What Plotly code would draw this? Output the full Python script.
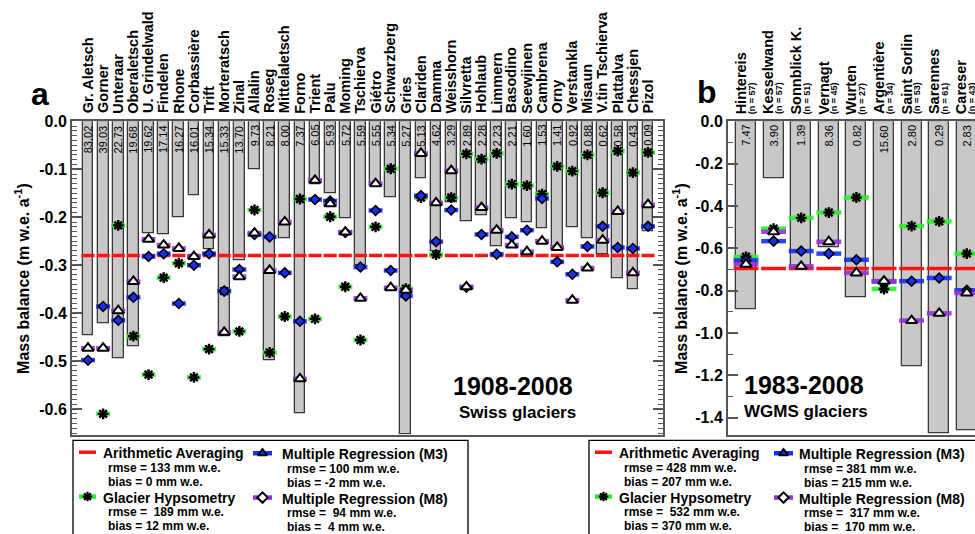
import plotly.graph_objects as go

# ---------------- data: panel a (Swiss glaciers 1908-2008) ----------------
swiss_names = ["Gr. Aletsch", "Gorner", "Unteraar", "Oberaletsch", "U. Grindelwald", "Findelen",
               "Rhone", "Corbassière", "Trift", "Morteratsch", "Zinal", "Allalin", "Roseg",
               "Mittelaletsch", "Forno", "Trient", "Palu", "Moming", "Tschierva", "Giétro",
               "Schwarzberg", "Gries", "Clariden", "Damma", "Weisshorn", "Silvretta", "Hohlaub",
               "Limmern", "Basodino", "Seewjinen", "Cambrena", "Orny", "Verstankla", "Misaun",
               "V.tin Tschierva", "Plattalva", "Chessjen", "Pizol"]
swiss_area = ["83.02", "39.03", "22.73", "19.68", "19.62", "17.14", "16.27", "16.01", "15.34",
              "15.33", "13.70", "9.73", "8.21", "8.00", "7.37", "6.05", "5.93", "5.72", "5.59",
              "5.55", "5.34", "5.27", "5.13", "4.62", "3.29", "2.89", "2.28", "2.23", "2.21",
              "1.60", "1.53", "1.41", "0.92", "0.88", "0.62", "0.58", "0.43", "0.09"]
swiss_obs = [-0.447, -0.422, -0.494, -0.470, -0.233, -0.236, -0.200, -0.155, -0.267, -0.448,
             -0.289, -0.101, -0.499, -0.243, -0.609, -0.131, -0.150, -0.202, -0.301, -0.133,
             -0.159, -0.652, -0.118, -0.270, -0.168, -0.209, -0.195, -0.260, -0.203, -0.210,
             -0.224, -0.265, -0.222, -0.243, -0.277, -0.328, -0.350, -0.229]
swiss_hyps = [None, -0.610, -0.217, -0.448, -0.528, -0.326, -0.296, -0.534, -0.475, -0.354,
              -0.438, -0.185, -0.482, -0.407, -0.162, -0.412, -0.199, -0.345, -0.456, -0.220,
              -0.099, -0.349, -0.159, -0.278, -0.159, -0.068, -0.079, -0.067, -0.131, -0.134,
              -0.152, -0.094, -0.104, -0.070, -0.149, -0.062, -0.107, -0.065]
swiss_m3 = [-0.498, -0.386, -0.415, -0.367, -0.282, -0.276, -0.380, -0.300, -0.276, -0.354,
            -0.309, -0.236, -0.241, -0.316, -0.417, -0.163, -0.166, -0.232, -0.304, -0.186,
            -0.311, -0.364, -0.155, -0.251, -0.185, -0.346, -0.236, -0.277, -0.241, -0.227,
            -0.161, -0.293, -0.319, -0.261, -0.219, -0.263, -0.265, -0.219]
swiss_m8 = [-0.473, -0.473, -0.395, -0.334, -0.246, -0.258, -0.265, -0.282, -0.237, -0.440,
            -0.324, -0.233, -0.311, -0.210, -0.537, -0.123, -0.172, -0.231, -0.369, -0.130,
            -0.347, -0.352, -0.067, -0.170, -0.103, -0.345, -0.180, -0.227, -0.258, -0.272,
            -0.250, -0.263, -0.373, -0.306, -0.248, -0.188, -0.316, -0.174]
swiss_avg = -0.28

# ---------------- data: panel b (WGMS glaciers 1983-2008) ----------------
wgms_names = ["Hintereis", "Kesselwand", "Sonnblick K.", "Vernagt", "Wurten", "Argentière",
              "Saint Sorlin", "Sarennes", "Careser"]
wgms_n = [57, 57, 51, 45, 27, 34, 53, 61, 43]
wgms_area = ["7.47", "3.90", "1.39", "8.36", "0.82", "15.60", "2.80", "0.29", "2.83"]
wgms_obs = [-0.887, -0.270, -0.695, -0.597, -0.833, -0.752, -1.158, -1.473, -1.457]
wgms_hyps = [-0.640, -0.507, -0.456, -0.431, -0.360, -0.792, -0.495, -0.473, -0.625]
wgms_m3 = [-0.657, -0.566, -0.613, -0.625, -0.654, -0.757, -0.755, -0.740, -0.798]
wgms_m8 = [-0.675, -0.522, -0.685, -0.569, -0.716, -0.755, -0.941, -0.907, -0.811]
wgms_avg = -0.695

yticks_a = [0.0, -0.1, -0.2, -0.3, -0.4, -0.5, -0.6]
yticks_b = [0.0, -0.2, -0.4, -0.6, -0.8, -1.0, -1.2, -1.4]

legend_a = [("Arithmetic Averaging", "rmse = 133 mm w.e.", "bias = 0 mm w.e."),
            ("Glacier Hypsometry", "rmse =\u00a0 189 mm w.e.", "bias = 12 mm w.e."),
            ("Multiple Regression (M3)", "rmse = 100 mm w.e.", "bias = -2 mm w.e."),
            ("Multiple Regression (M8)", "rmse =\u00a0 94 mm w.e.", "bias =\u00a0 4 mm w.e.")]
legend_b = [("Arithmetic Averaging", "rmse = 428 mm w.e.", "bias = 207 mm w.e."),
            ("Glacier Hypsometry", "rmse =\u00a0 532 mm w.e.", "bias = 370 mm w.e."),
            ("Multiple Regression (M3)", "rmse = 381 mm w.e.", "bias = 215 mm w.e."),
            ("Multiple Regression (M8)", "rmse =\u00a0 317 mm w.e.", "bias =\u00a0 170 mm w.e.")]

# ---------------- style ----------------
W, H = 975, 534
FONT = "Liberation Sans, Arial, sans-serif"
GREEN = "#2cf02c"
BLUE = "#1530ff"
PURPLE = "#9a30d8"
RED = "#ff1414"
BARFILL = "#c8c8c8"
FRAME = "#555555"


def px(x):
    return x / W


def py(y):
    return 1 - y / H


def segs(vals, hw):
    xs, ys = [], []
    for i, v in enumerate(vals):
        if v is None:
            continue
        xs += [i - hw, i + hw, None]
        ys += [v, v, None]
    return xs, ys


def bold(s):
    return f"<b>{s}</b>"


fig = go.Figure()


def add_panel(names, obs, hyps, m3, m8, avg, xa, ya, barw, hw, red_hw):
    idx = list(range(len(names)))
    fig.add_trace(go.Bar(x=idx, y=obs, width=barw, xaxis=xa, yaxis=ya,
                         marker=dict(color=BARFILL, line=dict(color="#3a3a3a", width=1.3)),
                         showlegend=False, hoverinfo="skip"))
    rx, ry = segs([avg] * len(names), red_hw)
    fig.add_trace(go.Scatter(x=rx, y=ry, mode="lines", xaxis=xa, yaxis=ya,
                             line=dict(color=RED, width=3.5), showlegend=False, hoverinfo="skip"))
    for vals, col in [(hyps, GREEN), (m3, BLUE), (m8, PURPLE)]:
        sx, sy = segs(vals, hw)
        fig.add_trace(go.Scatter(x=sx, y=sy, mode="lines", xaxis=xa, yaxis=ya,
                                 line=dict(color=col, width=4.5), opacity=0.9,
                                 showlegend=False, hoverinfo="skip"))
    fig.add_trace(go.Scatter(x=idx, y=hyps, mode="markers", xaxis=xa, yaxis=ya,
                             marker=dict(symbol="asterisk-open", size=9, color="black",
                                         line=dict(color="black", width=2.4)),
                             showlegend=False, hoverinfo="skip"))
    fig.add_trace(go.Scatter(x=idx, y=m3, mode="markers", xaxis=xa, yaxis=ya,
                             marker=dict(symbol="diamond", size=7.5, color=BLUE,
                                         line=dict(color="black", width=1.6)),
                             showlegend=False, hoverinfo="skip"))
    fig.add_trace(go.Scatter(x=idx, y=m8, mode="markers", xaxis=xa, yaxis=ya,
                             marker=dict(symbol="triangle-up", size=10, color="white",
                                         line=dict(color="black", width=2)),
                             showlegend=False, hoverinfo="skip"))


add_panel(swiss_names, swiss_obs, swiss_hyps, swiss_m3, swiss_m8, swiss_avg, "x", "y", 0.71, 0.46, 0.43)
add_panel(wgms_names, wgms_obs, wgms_hyps, wgms_m3, wgms_m8, wgms_avg, "x2", "y2", 0.72, 0.45, 0.45)

ann = []


def txt(x, y, s, size, xanchor="center", yanchor="middle", angle=0):
    ann.append(dict(x=px(x), y=py(y), xref="paper", yref="paper", text=s, textangle=angle,
                    xanchor=xanchor, yanchor=yanchor, showarrow=False,
                    font=dict(family=FONT, size=size, color="black")))


# glacier names and area labels, panel a
for i, (nm, ar) in enumerate(zip(swiss_names, swiss_area)):
    ann.append(dict(x=i, xref="x", y=py(109), yref="paper", text=bold(nm), textangle=-90,
                    xanchor="center", yanchor="bottom", showarrow=False,
                    font=dict(family=FONT, size=14.5, color="black")))
    ann.append(dict(x=i, xref="x", y=0, yref="y", text=ar, textangle=-90, yshift=-2,
                    xanchor="center", yanchor="top", showarrow=False,
                    font=dict(family=FONT, size=11, color="black")))
# panel b
for i, (nm, n, ar) in enumerate(zip(wgms_names, wgms_n, wgms_area)):
    ann.append(dict(x=i, xref="x2", y=py(110), yref="paper", text=bold(nm), textangle=-90,
                    xshift=-5, xanchor="center", yanchor="bottom", showarrow=False,
                    font=dict(family=FONT, size=14.5, color="black")))
    ann.append(dict(x=i, xref="x2", y=py(110), yref="paper", text=bold(f"(n = {n})"),
                    textangle=-90, xshift=6, xanchor="center", yanchor="bottom", showarrow=False,
                    font=dict(family=FONT, size=9, color="black")))
    ann.append(dict(x=i, xref="x2", y=0, yref="y2", text=ar, textangle=-90, yshift=-2,
                    xanchor="center", yanchor="top", showarrow=False,
                    font=dict(family=FONT, size=11, color="black")))

ytitle = bold("Mass balance (m w.e. a<sup>-1</sup>)")
txt(22, 275, ytitle, 16, angle=-90)
txt(680, 275, ytitle, 16, angle=-90)

txt(40, 87, bold("a"), 32)
txt(707, 85, bold("b"), 32)
txt(513, 384, bold("1908-2008"), 25)
txt(517, 411, bold("Swiss glaciers"), 17)
txt(742, 383, bold("1983-2008"), 25, xanchor="left")
txt(742, 410, bold("WGMS glaciers"), 17, xanchor="left")

shapes = []


# ---------------- custom legends ----------------
def add_legend(entries, x0, x1, sx0, sx1, tx, col2_sx0, col2_sx1, col2_tx):
    shapes.append(dict(type="rect", xref="paper", yref="paper", x0=px(x0), x1=px(x1),
                       y0=py(439), y1=py(560), line=dict(color="black", width=1.3)))
    rows = [(sx0, sx1, tx, 452, RED, None), (sx0, sx1, tx, 497, GREEN, "asterisk"),
            (col2_sx0, col2_sx1, col2_tx, 453, BLUE, "triangle"),
            (col2_sx0, col2_sx1, col2_tx, 498, PURPLE, "diamond")]
    for (a, b, t, yy, col, sym), (title, rm, bi) in zip(rows, entries):
        fig.add_trace(go.Scatter(x=[a, b], y=[yy - 1, yy - 1], mode="lines", xaxis="x3", yaxis="y3",
                                 line=dict(color=col, width=3.5 if sym is None else 4.5),
                                 showlegend=False, hoverinfo="skip"))
        if sym == "asterisk":
            mk = dict(symbol="asterisk-open", size=8, color="black", line=dict(color="black", width=2.2))
        elif sym == "triangle":
            mk = dict(symbol="triangle-up", size=8, color=BLUE, line=dict(color="black", width=2))
        elif sym == "diamond":
            mk = dict(symbol="diamond", size=8, color="white", line=dict(color="black", width=2))
        else:
            mk = None
        if mk:
            fig.add_trace(go.Scatter(x=[(a + b) / 2], y=[yy - 1], mode="markers", xaxis="x3",
                                     yaxis="y3", marker=mk, showlegend=False, hoverinfo="skip"))
        txt(t, yy, bold(title), 14, xanchor="left")
        txt(t + 5, yy + 15, bold(rm), 12, xanchor="left")
        txt(t + 5, yy + 29, bold(bi), 12, xanchor="left")


add_legend(legend_a, 73, 468, 79, 96, 101, 253, 272, 280)
add_legend(legend_b, 589, 1000, 595, 612, 617, 774, 793, 797)

axis_common = dict(showgrid=False, zeroline=False, showline=True, linecolor=FRAME, linewidth=2)
tickfont = dict(family=FONT, size=16, color="black")

fig.update_layout(
    width=W, height=H, margin=dict(l=0, r=0, t=0, b=0),
    paper_bgcolor="white", plot_bgcolor="rgba(0,0,0,0)",
    bargap=0, showlegend=False,
    xaxis=dict(domain=[px(72), px(663)], range=[-1.057, 37.99], showticklabels=False,
               ticks="", mirror=True, **axis_common),
    yaxis=dict(domain=[py(433), py(115)], range=[-0.653, 0.0], tickvals=yticks_a,
               ticktext=[bold(f"{v:.1f}" if v != 0 else "0.0") for v in yticks_a],
               ticks="inside", ticklen=10, tickwidth=1.5, tickcolor=FRAME, mirror="ticks",
               minor=dict(dtick=0.01, ticks="inside", ticklen=5, tickcolor=FRAME, tickwidth=1),
               tickfont=tickfont, anchor="x", **axis_common),
    xaxis2=dict(domain=[px(728), 1.0], range=[-0.652, 8.297], showticklabels=False,
                ticks="", mirror=True, anchor="y2", **axis_common),
    yaxis2=dict(domain=[py(434), py(115)], range=[-1.484, 0.0], tickvals=yticks_b,
                ticktext=[bold(f"{v:.1f}" if v != 0 else "0.0") for v in yticks_b],
                ticks="inside", ticklen=10, tickwidth=1.5, tickcolor=FRAME,
                minor=dict(dtick=0.1, ticks="inside", ticklen=5, tickcolor=FRAME, tickwidth=1),
                tickfont=tickfont, anchor="x2", **axis_common),
    xaxis3=dict(domain=[0, 1], range=[0, W], visible=False, anchor="y3"),
    yaxis3=dict(domain=[0, 1], range=[H, 0], visible=False, anchor="x3"),
    annotations=ann, shapes=shapes,
)
fig.write_html("out.html")
